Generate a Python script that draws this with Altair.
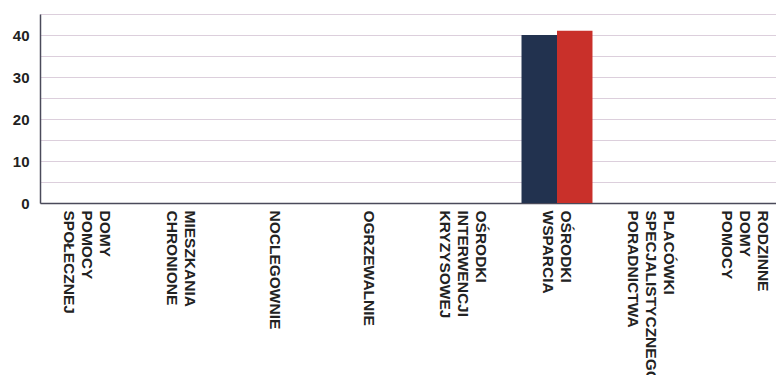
import altair as alt
import pandas as pd

categories = [
    "DOMY POMOCY SPOŁECZNEJ",
    "MIESZKANIA CHRONIONE",
    "NOCLEGOWNIE",
    "OGRZEWALNIE",
    "OŚRODKI INTERWENCJI KRYZYSOWEJ",
    "OŚRODKI WSPARCIA",
    "PLACÓWKI SPECJALISTYCZNEGO PORADNICTWA",
    "RODZINNE DOMY POMOCY",
]
series = ["Seria 1", "Seria 2"]
values_1 = [0, 0, 0, 0, 0, 40, 0, 0]
values_2 = [0, 0, 0, 0, 0, 41, 0, 0]
colors = ["#22324f", "#c9302a"]

rows = []
for c, a, b in zip(categories, values_1, values_2):
    rows.append({"kategoria": c, "seria": series[0], "wartosc": a})
    rows.append({"kategoria": c, "seria": series[1], "wartosc": b})
df = pd.DataFrame(rows)

label_offset = {
    "condition": [
        {"test": "length(split(datum.label, ' ')) >= 3", "value": 18},
        {"test": "length(split(datum.label, ' ')) == 2", "value": 9},
    ],
    "value": 0,
}

chart = (
    alt.Chart(df)
    .mark_bar()
    .encode(
        x=alt.X(
            "kategoria:N",
            sort=categories,
            title=None,
            scale=alt.Scale(paddingInner=0.245, paddingOuter=0.1225, range=[0, 752]),
            axis=alt.Axis(
                labelAngle=90,
                labelExpr="split(datum.label, ' ')",
                labelFont="Liberation Sans",
                labelFontWeight="bold",
                labelFontSize=15.5,
                labelColor="#222222",
                labelLineHeight=18,
                labelPadding=7,
                labelOffset=label_offset,
                ticks=False,
                domainColor="#4a4a5a",
                domainWidth=1.5,
                labelLimit=400,
            ),
        ),
        xOffset=alt.XOffset("seria:N", sort=series),
        y=alt.Y(
            "wartosc:Q",
            title=None,
            scale=alt.Scale(domain=[0, 45], nice=False),
            axis=alt.Axis(
                values=[0, 5, 10, 15, 20, 25, 30, 35, 40, 45],
                labelExpr="datum.value % 10 == 0 ? datum.label : ''",
                labelFont="Liberation Sans",
                labelFontWeight="bold",
                labelFontSize=15,
                labelColor="#222222",
                labelPadding=11,
                ticks=False,
                domainColor="#4a4a5a",
                domainWidth=1.5,
                gridColor="#dccfdc",
            ),
        ),
        color=alt.Color(
            "seria:N",
            sort=series,
            scale=alt.Scale(domain=series, range=colors),
            legend=None,
        ),
    )
    .properties(
        width=736,
        height=189,
        autosize=alt.AutoSizeParams(type="none"),
        padding={"left": 32, "top": 6, "right": 0, "bottom": 172},
    )
    .configure_view(stroke=None)
    .configure(background="white")
)

chart.save("out.html", embed_options={"renderer": "svg", "actions": False})
